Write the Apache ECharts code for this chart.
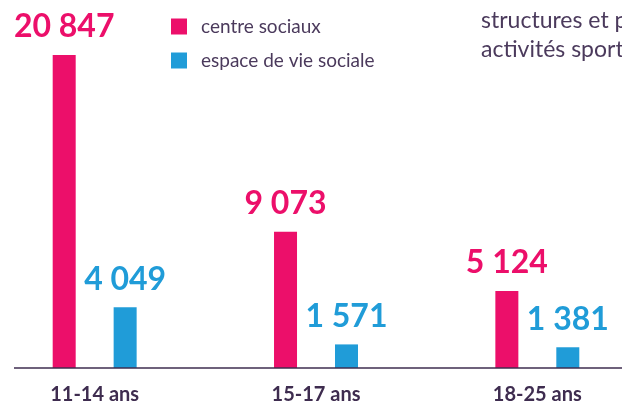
<!DOCTYPE html>
<html>
<head>
<meta charset="utf-8">
<script src="https://cdn.jsdelivr.net/npm/echarts@6/dist/echarts.min.js"></script>
<style>html,body{margin:0;padding:0;background:#fff}#c{width:622px;height:406px}</style>
</head>
<body>
<div id="c"></div>
<script>
const categories = ['11-14 ans', '15-17 ans', '18-25 ans'];
const centresSociaux = [20847, 9073, 5124];
const espaceVieSociale = [4049, 1571, 1381];
const seriesNames = ['centre sociaux', 'espace de vie sociale'];

const PINK = '#EC0F6A';
const BLUE = '#209CD8';
const DARK = '#3E2C4F';
const fmt = v => String(v).replace(/\B(?=(\d{3})+(?!\d))/g, ' ');

const chart = echarts.init(document.getElementById('c'), null, {renderer: 'canvas'});
chart.setOption({
  animation: false,
  textStyle: {fontFamily: 'Lato'},
  title: {
    text: 'structures et pratiques\nactivités sportives',
    left: 476, top: 1,
    textStyle: {fontFamily: 'Lato', fontWeight: 'normal', fontSize: 23, lineHeight: 29, color: '#4B3A5C'}
  },
  legend: {
    orient: 'vertical', left: 166, top: 12, padding: 5,
    itemWidth: 16, itemHeight: 16, itemGap: 15,
    icon: 'rect',
    data: seriesNames,
    textStyle: {fontFamily: 'Lato', fontSize: 19, lineHeight: 16, color: '#4B3A5C', padding: [0, 0, 0, 9]}
  },
  grid: {left: -16, right: -26, top: 55, bottom: 38, containLabel: false, outerBoundsMode: 'none'},
  xAxis: {
    type: 'category', data: categories,
    axisLine: {show: false}, axisTick: {show: false},
    axisLabel: {margin: 17, fontFamily: 'Lato', fontWeight: 'bold', fontSize: 20, color: DARK}
  },
  yAxis: {type: 'value', min: 0, max: 20847, show: false, splitLine: {show: false}},
  graphic: [{
    type: 'line', shape: {x1: 14, y1: 368, x2: 622, y2: 368},
    style: {stroke: DARK, lineWidth: 1.5}, z: 10
  }],
  series: [
    {
      name: seriesNames[0], type: 'bar', data: centresSociaux,
      barWidth: 23, barGap: '165%', itemStyle: {color: PINK},
      label: {show: true, position: 'top', distance: 12, formatter: p => fmt(p.value),
        fontFamily: 'Lato', fontWeight: 'bold', fontSize: 32, color: PINK}
    },
    {
      name: seriesNames[1], type: 'bar', data: espaceVieSociale,
      barWidth: 23, itemStyle: {color: BLUE},
      label: {show: true, position: 'top', distance: 12, formatter: p => fmt(p.value),
        fontFamily: 'Lato', fontWeight: 'bold', fontSize: 32, color: BLUE}
    }
  ]
});
</script>
</body>
</html>
